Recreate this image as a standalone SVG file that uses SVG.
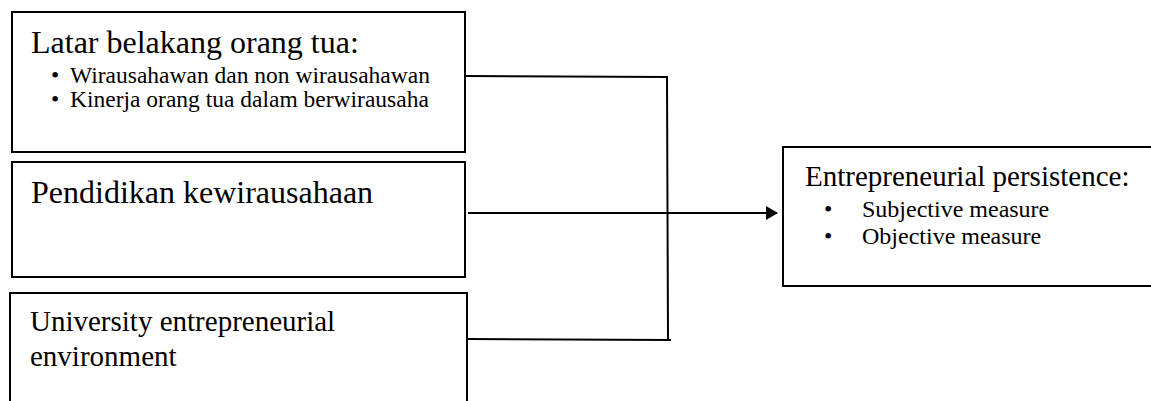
<svg xmlns="http://www.w3.org/2000/svg" width="1151" height="401" viewBox="0 0 1151 401">
<defs>
<marker id="ah" markerWidth="12" markerHeight="14" refX="11" refY="7" orient="auto" markerUnits="userSpaceOnUse">
<path d="M0,0 L12,7 L0,14 Z" fill="#000"/>
</marker>
</defs>
<g fill="#fff" stroke="#000" stroke-width="2">
<g id="node-latar">
<rect x="12" y="12" width="453" height="140"/>
<g font-family="Liberation Serif, serif" fill="#000" stroke="none">
<text x="31" y="53" font-size="32">Latar belakang orang tua:</text>
<text x="51" y="83" font-size="23.5">•</text>
<text x="70" y="83" font-size="23.5">Wirausahawan dan non wirausahawan</text>
<text x="51" y="107" font-size="23.5">•</text>
<text x="70" y="107" font-size="23.5">Kinerja orang tua dalam berwirausaha</text>
</g>
</g>
<g id="node-pendidikan">
<rect x="12" y="162" width="453" height="115"/>
<text x="31" y="203" font-size="32" font-family="Liberation Serif, serif" fill="#000" stroke="none">Pendidikan kewirausahaan</text>
</g>
<g id="node-university">
<rect x="10" y="293" width="457" height="130"/>
<g font-family="Liberation Serif, serif" fill="#000" stroke="none" font-size="29">
<text x="30" y="331">University entrepreneurial</text>
<text x="30" y="366">environment</text>
</g>
</g>
<g id="node-persistence">
<rect x="783" y="147" width="380" height="139"/>
<g font-family="Liberation Serif, serif" fill="#000" stroke="none">
<text x="805" y="186" font-size="29">Entrepreneurial persistence:</text>
<text x="824" y="217" font-size="24">•</text>
<text x="862" y="217" font-size="24">Subjective measure</text>
<text x="824" y="244" font-size="24">•</text>
<text x="862" y="244" font-size="24">Objective measure</text>
</g>
</g>
</g>
<g id="connectors" fill="none" stroke="#000" stroke-width="2">
<path d="M465,76 L667,77 L668,340"/>
<path d="M468,339 L671,340"/>
<path d="M468,213 L777,213" marker-end="url(#ah)"/>
</g>
</svg>
